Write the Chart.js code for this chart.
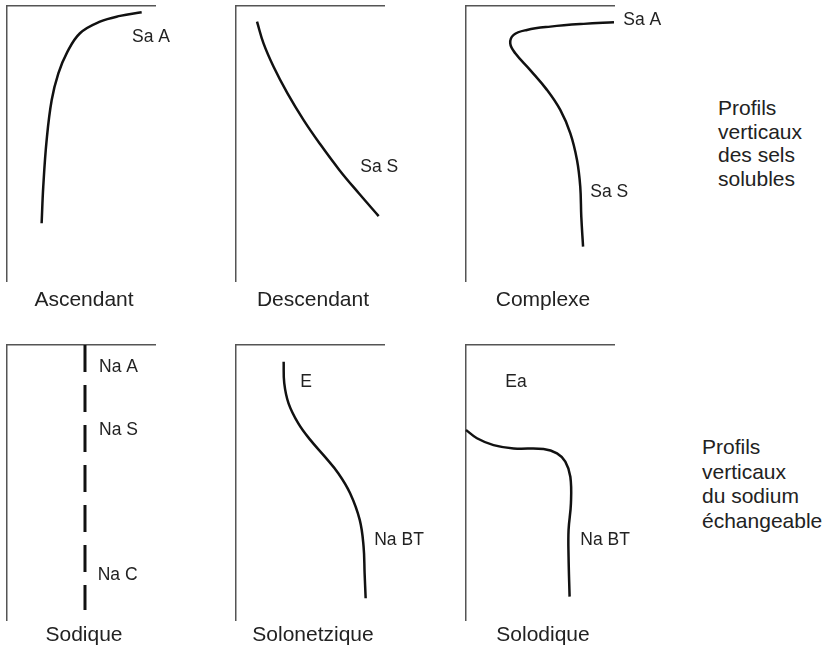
<!DOCTYPE html>
<html>
<head>
<meta charset="utf-8">
<script src="https://cdn.jsdelivr.net/npm/chart.js@4"></script>
<style>
  body { margin: 0; background: #fff; }
  #page { position: relative; width: 827px; height: 650px; overflow: hidden; font-family: "Liberation Sans", Arial, Helvetica, sans-serif; color: #222; }
  #page canvas { position: absolute; }
  .caption { position: absolute; width: 200px; text-align: center; font-size: 21px; line-height: 21px; }
  .side { position: absolute; font-size: 21px; }
</style>
</head>
<body>
<div id="page"></div>
<script>
// x = concentration (0..100), y = depth (0 at surface, 100 at bottom)

// Ascendant (Sa A)
const ascendantX = [23.4, 24.5, 26.8, 30.2, 34.7, 40.3, 49.3, 62.8, 76.4, 91.0];
const ascendantY = [79.0, 65.7, 48.7, 34.2, 24.5, 17.2, 9.9, 5.7, 3.6, 2.3];

// Descendant (Sa S)
const descendantX = [14.2, 18.6, 25.4, 34.7, 45.7, 56.4, 69.8, 83.0, 96.4];
const descendantY = [5.7, 13.6, 22.1, 31.7, 41.5, 49.9, 59.6, 68.1, 76.4];

// Complexe (Sa A -> Sa S)
const complexeX = [100, 79.5, 57.0, 41.2, 32.2, 29.9, 33.3, 43.4, 54.7, 63.7, 70.5, 75.0, 77.2, 77.9, 79.1];
const complexeY = [5.9, 6.5, 7.5, 8.7, 10.5, 13.6, 17.2, 23.3, 30.5, 37.8, 46.3, 56.0, 65.7, 76.6, 87.5];

// Sodique (constant Na)
const sodiqueX = [52.7, 52.7];
const sodiqueY = [0, 96.4];

// Solonetzique (E -> Na BT)
const solonetzX = [32.2, 32.6, 35.5, 42.1, 50.2, 60.0, 69.2, 77.1, 83.6, 86.2, 86.9, 87.6];
const solonetzY = [6.1, 13.9, 21.2, 28.5, 34.5, 40.6, 46.7, 53.9, 63.6, 73.3, 83.0, 92.1];

// Solodique (Ea -> Na BT)
const solodiqueX = [0, 7.4, 18.6, 32.2, 52.4, 61.5, 67.1, 70.5, 70.9, 69.3, 69.3, 70.0];
const solodiqueY = [30.9, 33.9, 36.4, 37.6, 37.8, 39.4, 42.4, 47.9, 57.6, 67.3, 77.0, 91.5];

const captions = ['Ascendant', 'Descendant', 'Complexe', 'Sodique', 'Solonetzique', 'Solodique'];
const sideTop = ['Profils', 'verticaux', 'des sels', 'solubles'];
const sideBottom = ['Profils', 'verticaux', 'du sodium', 'échangeable'];

// horizon labels: [text, x, y(baseline)]
const ascendantLabels = [['Sa A', 84.5, 13.0]];
const descendantLabels = [['Sa S', 84.0, 60.4]];
const complexeLabels = [['Sa A', 106.3, 6.9], ['Sa S', 84.0, 69.5]];
const sodiqueLabels = [['Na A', 62.2, 9.8], ['Na S', 62.2, 32.7], ['Na C', 61.3, 85.5]];
const solonetzLabels = [['E', 43.4, 15.3], ['Na BT', 93.4, 72.7]];
const solodiqueLabels = [['Ea', 26.6, 15.3], ['Na BT', 77.2, 72.7]];

const PAD = 10, AREA_W = 148, AREA_H = 275, PAD_R = 60;

const labelPlugin = {
  id: 'horizonLabels',
  afterDatasetsDraw(chart, args, opts) {
    const {ctx, scales: {x, y}} = chart;
    ctx.save();
    ctx.font = '17.5px "Liberation Sans", Arial, sans-serif';
    ctx.fillStyle = '#222';
    ctx.textBaseline = 'alphabetic';
    (opts.items || []).forEach(function(item) {
      ctx.fillText(item[0], x.getPixelForValue(item[1]), y.getPixelForValue(item[2]));
    });
    ctx.restore();
  }
};

function toPoints(xs, ys) {
  return xs.map(function(v, i) { return {x: v, y: ys[i]}; });
}

function makePanel(left, top, xs, ys, labels, dashed) {
  const page = document.getElementById('page');
  const canvas = document.createElement('canvas');
  canvas.width = PAD + AREA_W + PAD_R;
  canvas.height = PAD + AREA_H + PAD;
  canvas.style.left = (left - PAD) + 'px';
  canvas.style.top = (top - PAD) + 'px';
  page.appendChild(canvas);

  const axis = function(position, reverse) {
    return {
      type: 'linear',
      position: position,
      min: 0,
      max: 100,
      reverse: reverse,
      ticks: { display: false },
      grid: { display: false, drawTicks: false },
      border: { display: true, color: '#555', width: 1.5 }
    };
  };

  new Chart(canvas, {
    type: 'scatter',
    data: {
      datasets: [{
        data: toPoints(xs, ys),
        showLine: true,
        borderColor: '#111',
        borderWidth: dashed ? 3 : 2.5,
        borderDash: dashed ? [27, 13] : [],
        borderCapStyle: 'butt',
        pointRadius: 0,
        tension: dashed ? 0 : 0.4,
        clip: false
      }]
    },
    options: {
      responsive: false,
      animation: false,
      events: [],
      layout: { padding: { left: PAD, top: PAD, right: PAD_R, bottom: PAD } },
      plugins: {
        legend: { display: false },
        tooltip: { enabled: false },
        horizonLabels: { items: labels }
      },
      scales: {
        x: axis('top', false),
        y: axis('left', true)
      }
    },
    plugins: [labelPlugin]
  });
}

function addCaption(text, centerX, top) {
  const div = document.createElement('div');
  div.className = 'caption';
  div.textContent = text;
  div.style.left = (centerX - 100) + 'px';
  div.style.top = top + 'px';
  document.getElementById('page').appendChild(div);
}

function addSide(lines, left, top, lineHeight) {
  const div = document.createElement('div');
  div.className = 'side';
  div.style.left = left + 'px';
  div.style.top = top + 'px';
  div.style.lineHeight = lineHeight + 'px';
  div.innerHTML = lines.join('<br>');
  document.getElementById('page').appendChild(div);
}

const colX = [7, 236, 466];
const rowY = [6, 345];

makePanel(colX[0], rowY[0], ascendantX, ascendantY, ascendantLabels, false);
makePanel(colX[1], rowY[0], descendantX, descendantY, descendantLabels, false);
makePanel(colX[2], rowY[0], complexeX, complexeY, complexeLabels, false);
makePanel(colX[0], rowY[1], sodiqueX, sodiqueY, sodiqueLabels, true);
makePanel(colX[1], rowY[1], solonetzX, solonetzY, solonetzLabels, false);
makePanel(colX[2], rowY[1], solodiqueX, solodiqueY, solodiqueLabels, false);

captions.forEach(function(text, i) {
  const col = i % 3, row = Math.floor(i / 3);
  addCaption(text, colX[col] + AREA_W / 2 + 3, row === 0 ? 288 : 623);
});

addSide(sideTop, 718, 96, 23.5);
addSide(sideBottom, 702, 435, 24.5);
</script>
</body>
</html>
